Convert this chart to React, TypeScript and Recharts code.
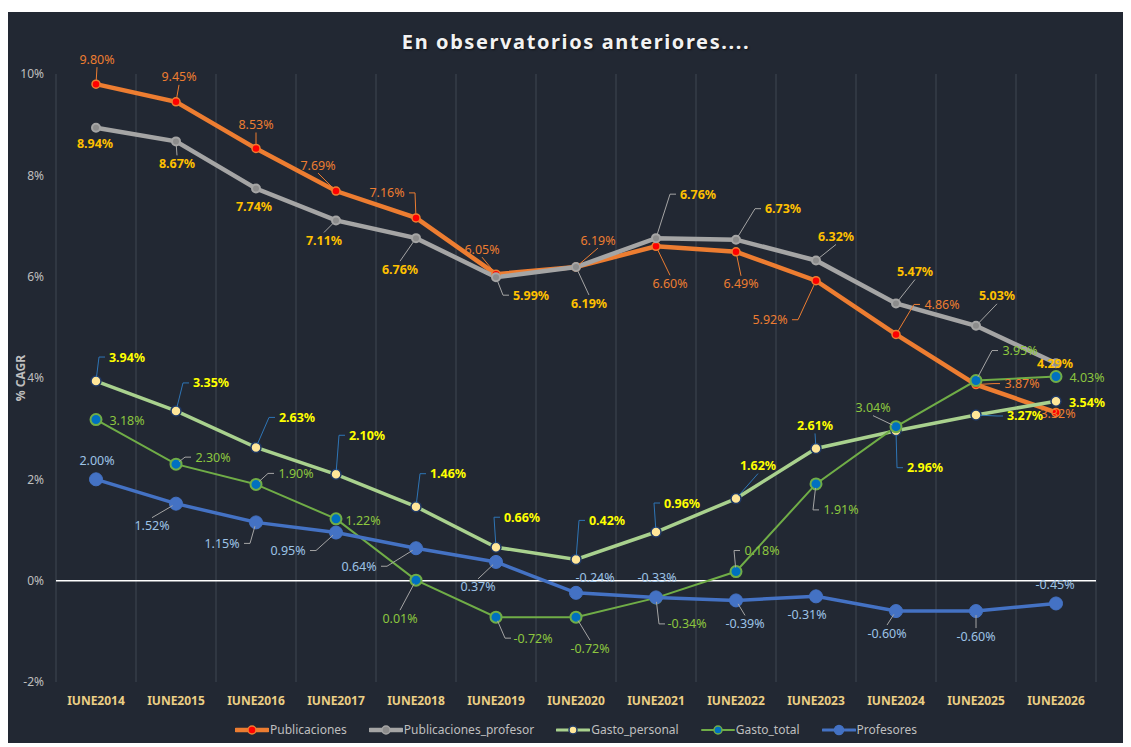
import React from "react";
import { LineChart, Line, XAxis, YAxis, CartesianGrid, ReferenceLine, Legend, LabelList } from "recharts";

const years = ["IUNE2014", "IUNE2015", "IUNE2016", "IUNE2017", "IUNE2018", "IUNE2019", "IUNE2020", "IUNE2021", "IUNE2022", "IUNE2023", "IUNE2024", "IUNE2025", "IUNE2026"];
const publicaciones = [9.8, 9.45, 8.53, 7.69, 7.16, 6.05, 6.19, 6.6, 6.49, 5.92, 4.86, 3.87, 3.32];
const publicacionesProfesor = [8.94, 8.67, 7.74, 7.11, 6.76, 5.99, 6.19, 6.76, 6.73, 6.32, 5.47, 5.03, 4.29];
const gastoPersonal = [3.94, 3.35, 2.63, 2.1, 1.46, 0.66, 0.42, 0.96, 1.62, 2.61, 2.96, 3.27, 3.54];
const gastoTotal = [3.18, 2.3, 1.9, 1.22, 0.01, -0.72, -0.72, -0.34, 0.18, 1.91, 3.04, 3.95, 4.03];
const profesores = [2.0, 1.52, 1.15, 0.95, 0.64, 0.37, -0.24, -0.33, -0.39, -0.31, -0.6, -0.6, -0.45];
const yTicks = [-2, 0, 2, 4, 6, 8, 10];

const data = years.map((year, i) => ({
  year,
  Publicaciones: publicaciones[i],
  Publicaciones_profesor: publicacionesProfesor[i],
  Gasto_personal: gastoPersonal[i],
  Gasto_total: gastoTotal[i],
  Profesores: profesores[i],
}));

// callout placement per point: [dx, dy, leader line?]
const pubOffsets = [[1, -25, 1], [3, -25, 1], [0, -24, 1], [-18, -26, 1], [-29, -25, 1], [-14, -25, 1], [22, -27, 1], [14, 37, 1], [5, 32, 1], [-46, 39, 1], [46, -30, 1], [46, -1, 1], [2, 1, 0]];
const profOffsets = [[-1, 16, 0], [1, 22, 1], [-2, 18, 0], [-12, 20, 1], [-16, 31, 1], [35, 18, 1], [13, 36, 1], [42, -44, 1], [47, -31, 1], [20, -24, 1], [19, -32, 1], [21, -30, 1], [-1, 0, 0]];
const gpOffsets = [[31, -24, 1], [35, -28, 1], [41, -30, 1], [31, -39, 1], [32, -33, 1], [26, -30, 1], [31, -39, 1], [26, -29, 1], [22, -33, 1], [-1, -23, 1], [29, 37, 1], [49, 1, 1], [31, 1, 0]];
const gtOffsets = [[31, 1, 0], [37, -7, 1], [40, -11, 1], [27, 2, 0], [-16, 38, 1], [37, 21, 1], [14, 31, 1], [31, 26, 1], [26, -21, 1], [25, 26, 1], [-23, -19, 1], [44, -30, 1], [31, 1, 0]];
const profeOffsets = [[1, -19, 0], [-24, 22, 1], [-34, 21, 1], [-48, 18, 1], [-57, 18, 1], [-18, 25, 1], [19, -15, 0], [1, -20, 0], [9, 23, 1], [-9, 18, 0], [-9, 22, 1], [0, 25, 1], [-1, -19, 0]];

const FONT = "'Noto Sans', sans-serif";

function callout(offsets: number[][], color: string, weight: number, leaderColor: string) {
  return (props: any) => {
    const { x, y, value, index } = props;
    const [dx, dy, leader] = offsets[index];
    const cx = x + dx;
    const cy = y + dy;
    let pts: number[][] | null = null;
    if (leader) {
      const hw = 20;
      const hh = 7;
      if (Math.abs(dx) > hw + 4) {
        const s = Math.sign(dx);
        const ax = cx - s * (hw + 2);
        pts = [[x, y], [ax - s * 6, cy], [ax, cy]];
      } else {
        const s = Math.sign(dy) || 1;
        pts = [[x, y], [cx, cy - s * (hh + 1)]];
      }
      const [p0, p1] = pts;
      const len = Math.hypot(p1[0] - p0[0], p1[1] - p0[1]) || 1;
      pts[0] = [p0[0] + ((p1[0] - p0[0]) / len) * 4, p0[1] + ((p1[1] - p0[1]) / len) * 4];
    }
    return (
      <g key={`lbl-${index}`}>
        {pts && <polyline points={pts.map((p) => p.join(",")).join(" ")} fill="none" stroke={leaderColor} strokeWidth={1} />}
        <text x={cx} y={cy} textAnchor="middle" dominantBaseline="central" fill={color} fontSize={12.5} fontWeight={weight} fontFamily={FONT}>
          {Number(value).toFixed(2)}%
        </text>
      </g>
    );
  };
}

const legendItems = [
  { name: "Publicaciones", line: "#ED7D31", lw: 4.5, r: 4, fill: "#FF0000", stroke: "#ED7D31" },
  { name: "Publicaciones_profesor", line: "#A5A5A5", lw: 4.5, r: 4, fill: "#8C8C8C", stroke: "#A5A5A5" },
  { name: "Gasto_personal", line: "#A9D18E", lw: 3, r: 4, fill: "#FFE699", stroke: "#1F3864" },
  { name: "Gasto_total", line: "#70AD47", lw: 2, r: 4, fill: "#0070C0", stroke: "#70AD47" },
  { name: "Profesores", line: "#4472C4", lw: 3, r: 4.5, fill: "#4472C4", stroke: "#4472C4" },
];

function LegendContent() {
  return (
    <div style={{ display: "flex", justifyContent: "center", alignItems: "center", height: 35, gap: 22, fontFamily: FONT, fontSize: 12, color: "#BFBFBF" }}>
      {legendItems.map((it) => (
        <div key={it.name} style={{ display: "flex", alignItems: "center" }}>
          <svg width={34} height={12} style={{ marginRight: 1 }}>
            <line x1={1} y1={6} x2={33} y2={6} stroke={it.line} strokeWidth={it.lw} strokeLinecap="round" />
            <circle cx={17} cy={6} r={it.r} fill={it.fill} stroke={it.stroke} strokeWidth={1.5} />
          </svg>
          <span>{it.name}</span>
        </div>
      ))}
    </div>
  );
}

export default function App() {
  return (
    <div style={{ position: "relative", top: 4, width: 1123, height: 735, background: "#222833", fontFamily: FONT }}>
      <div style={{ position: "absolute", left: 48, width: 1040, top: 18, textAlign: "center", color: "#F2F2F2", fontSize: 20, fontWeight: 700, letterSpacing: 1.6, lineHeight: "24px", textShadow: "1px 1px 2px rgba(0,0,0,0.6)" }}>
        En observatorios anteriores....
      </div>
      <div style={{ position: "absolute", left: 12, top: 366, transform: "translate(-50%, -50%) rotate(-90deg)", color: "#BFBFBF", fontSize: 12, fontWeight: 700, whiteSpace: "nowrap" }}>
        % CAGR
      </div>
      <LineChart width={1123} height={735} data={data} margin={{ top: 62, right: 35, left: 0, bottom: 0 }}>
        <CartesianGrid
          horizontal={false}
          stroke="#3F4653"
          verticalCoordinatesGenerator={({ offset }: any) =>
            Array.from({ length: years.length + 1 }, (_, i) => offset.left + (i * offset.width) / years.length)
          }
        />
        <XAxis
          dataKey="year"
          interval={0}
          padding={{ left: 40, right: 40 }}
          axisLine={false}
          tickLine={false}
          tickSize={0}
          tickMargin={14}
          height={30}
          tick={{ fill: "#EBCF85", fontSize: 12, fontWeight: 700, fontFamily: FONT }}
        />
        <YAxis
          domain={[-2, 10]}
          ticks={yTicks}
          tickFormatter={(v: number) => `${v}%`}
          axisLine={false}
          tickLine={false}
          tickSize={0}
          tickMargin={12}
          width={48}
          tick={{ fill: "#BFBFBF", fontSize: 12, fontFamily: FONT }}
        />
        <ReferenceLine y={0} stroke="#FFFFFF" strokeWidth={1.5} />
        <Legend verticalAlign="bottom" height={35} wrapperStyle={{ left: 48, width: 1040 }} content={() => <LegendContent />} />
        <Line dataKey="Publicaciones" stroke="#ED7D31" strokeWidth={4.5} dot={{ r: 4, fill: "#FF0000", stroke: "#ED7D31", strokeWidth: 1.5 }} isAnimationActive={false}>
          <LabelList dataKey="Publicaciones" content={callout(pubOffsets, "#ED7D31", 400, "#ED7D31")} />
        </Line>
        <Line dataKey="Publicaciones_profesor" stroke="#A5A5A5" strokeWidth={4.5} dot={{ r: 4, fill: "#8C8C8C", stroke: "#A5A5A5", strokeWidth: 2 }} isAnimationActive={false}>
          <LabelList dataKey="Publicaciones_profesor" content={callout(profOffsets, "#FFC000", 700, "#A5A5A5")} />
        </Line>
        <Line dataKey="Gasto_personal" stroke="#A9D18E" strokeWidth={3.5} dot={{ r: 5, fill: "#FFE699", stroke: "#1F3864", strokeWidth: 1.5 }} isAnimationActive={false}>
          <LabelList dataKey="Gasto_personal" content={callout(gpOffsets, "#FFFF00", 700, "#2E75B6")} />
        </Line>
        <Line dataKey="Gasto_total" stroke="#70AD47" strokeWidth={2} dot={{ r: 5.5, fill: "#0070C0", stroke: "#70AD47", strokeWidth: 2 }} isAnimationActive={false}>
          <LabelList dataKey="Gasto_total" content={callout(gtOffsets, "#8CC63F", 400, "#A5A5A5")} />
        </Line>
        <Line dataKey="Profesores" stroke="#4472C4" strokeWidth={3.5} dot={{ r: 6.5, fill: "#4472C4", stroke: "#4472C4", strokeWidth: 1 }} isAnimationActive={false}>
          <LabelList dataKey="Profesores" content={callout(profeOffsets, "#9DC3E6", 400, "#A5A5A5")} />
        </Line>
      </LineChart>
    </div>
  );
}
